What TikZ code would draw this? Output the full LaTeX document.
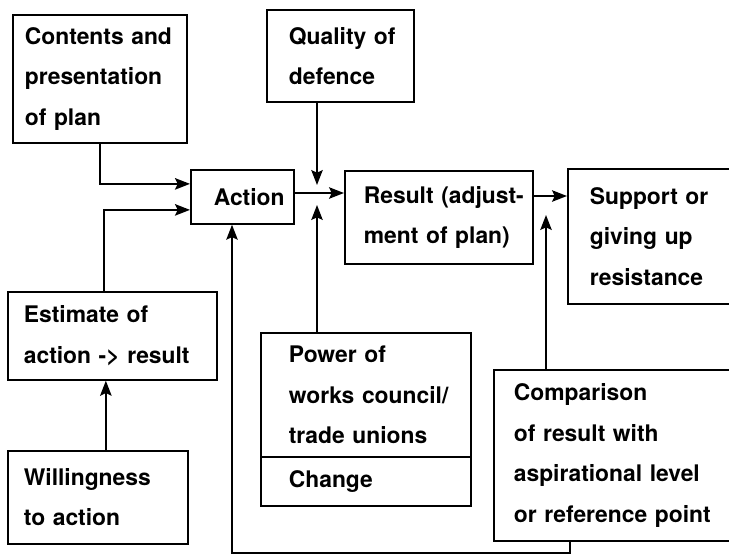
\documentclass[tikz,border=0pt]{standalone}
\usepackage{fontspec}
\setmainfont{TeX Gyre Heros}
\usetikzlibrary{arrows.meta,positioning}

\newcommand{\boxfont}{\fontsize{13}{23}\selectfont\bfseries}

\tikzset{
  box/.style={draw, line width=1pt, anchor=north west, align=left,
    inner xsep=0pt, inner ysep=0pt, font=\boxfont},
  pad/.style={execute at begin node={\leftskip=#1}},
  link/.style={->, line width=1.1pt},
  >={Stealth[length=8.5pt,width=6.5pt,inset=1.5pt]},
}

\begin{document}
\begin{tikzpicture}[x=0.02cm, y=-0.02cm]
  \useasboundingbox (0,0) rectangle (729,555);
  \clip (0,0) rectangle (729,555);

  % Top row
  \node[box, text width=3.48cm, minimum height=2.56cm, pad=0.24cm] (plan) at (12,14)
    {Contents and\\presentation\\of plan};
  \node[box, text width=2.94cm, minimum height=1.84cm, pad=0.44cm] (quality) at (266,9)
    {Quality of\\defence};

  % Middle row
  \node[box, text width=2.06cm, minimum height=1.08cm, pad=0.46cm] (action) at (190,169)
    {Action};
  \node[box, text width=3.76cm, minimum height=1.86cm, pad=0.38cm] (result) at (344,170)
    {Result (adjust-\\ment of plan)};
  \node[box, text width=3.46cm, minimum height=2.7cm, pad=0.44cm] (support) at (567,168)
    {Support or\\giving up\\resistance};

  % Lower boxes
  \node[box, text width=4.18cm, minimum height=1.76cm, pad=0.32cm] (estimate) at (7,291)
    {Estimate of\\action -> result};
  \node[box, text width=3.6cm, minimum height=1.86cm, pad=0.32cm] (will) at (7,450)
    {Willingness\\to action};
  \node[box, text width=4.2cm, minimum height=2.48cm, pad=0.56cm] (power) at (260,332)
    {Power of\\works council/\\trade unions};
  \node[box, below=-1pt of power, text width=4.2cm, minimum height=0.98cm, pad=0.56cm] (change)
    {Change};
  \node[box, text width=4.94cm, minimum height=3.42cm, pad=0.4cm] (compare) at (493,369)
    {Comparison\\of result with\\aspirational level\\or reference point};

  % Inputs to action
  \draw[link] (plan.south) |- ([yshift=0.26cm]action.west);
  \draw[link] ([xshift=-0.17cm]estimate.north) |- ([yshift=-0.26cm]action.west);
  \draw[link] ([xshift=0.16cm]will.north) -- ([xshift=0.16cm]will.north |- estimate.south);

  % Action -> result
  \coordinate (j1) at (317,193);
  \draw[link] (action.east |- j1) -- (result.west |- j1);
  \draw[link, shorten >=0.16cm] (quality.south -| j1) -- (j1);
  \draw[link, shorten >=0.24cm] (power.north -| j1) -- (j1);

  % Result -> support
  \coordinate (j2) at (546,196);
  \draw[link] (result.east |- j2) -- (support.west |- j2);
  \draw[link, shorten >=0.38cm] (compare.north -| j2) -- (j2);

  % Feedback
  \coordinate (fb) at (232,553);
  \draw[link] ([xshift=1.54cm]compare.south west) |- (fb) -- (fb |- action.south);
\end{tikzpicture}
\end{document}
